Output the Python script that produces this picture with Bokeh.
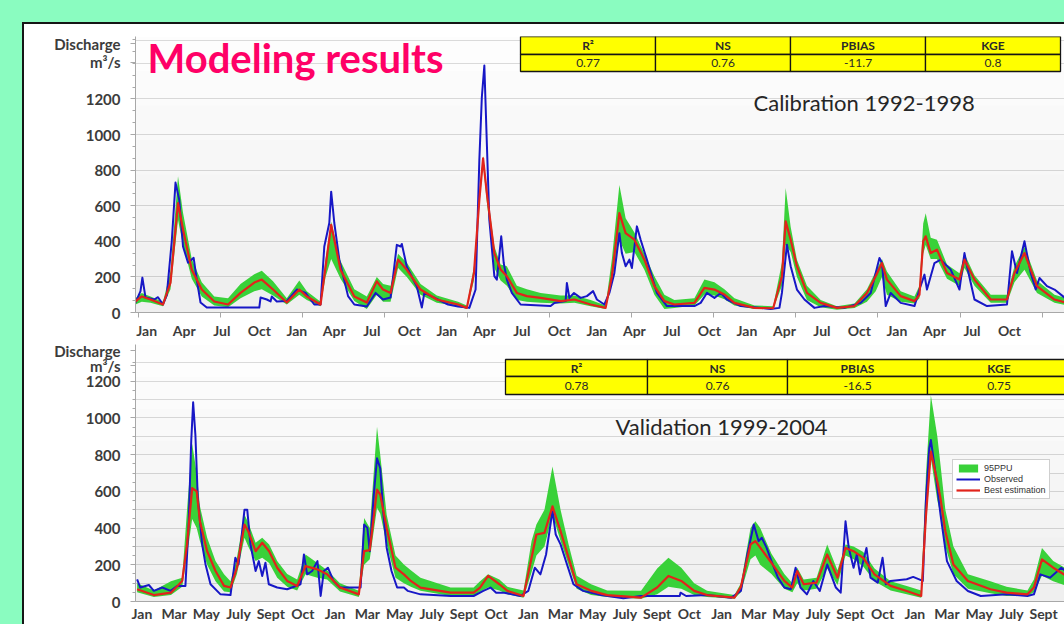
import numpy as np
from bokeh.plotting import figure
from bokeh.models import (Range1d, FixedTicker, Label, BoxAnnotation, Legend, LegendItem,
                          ColumnDataSource, GlobalInlineStyleSheet)
from bokeh.layouts import column
from bokeh.embed import file_html
from bokeh.resources import INLINE

# ---------------- data ----------------
metric_names = ["R²", "NS", "PBIAS", "KGE"]
calib_metrics = ["0.77", "0.76", "-11.7", "0.8"]
valid_metrics = ["0.78", "0.76", "-16.5", "0.75"]

y_title_lines = ["Discharge", "m³/s"]
calib_month_names = ["Jan", "Apr", "Jul", "Oct"]
calib_month_index = [0, 3, 6, 9]
valid_month_names = ["Jan", "Mar", "May", "July", "Sept", "Oct"]
valid_month_index = [0, 2, 4, 6, 8, 10]

# Calibration 1992-1998, time in months since Jan 1992
cal_sim_t = [0, 0.5, 1.2, 2.2, 2.8, 3.4, 3.8, 4.5, 5.3, 6.3,
             7.4, 8.4, 9.5, 10.1, 11.0, 12.1, 13.1, 13.7, 14.8, 15.2,
             15.65, 16.4, 17.5, 18.5, 19.3, 19.8, 20.4, 21.0, 21.7, 22.8,
             24.1, 25.8, 26.5, 27.07, 27.5, 27.8, 28.1, 28.7, 29.2, 29.7,
             30.5, 31.3, 32.4, 34.0, 35.1, 36.4, 37.6, 38.1, 38.7, 39.2,
             39.9, 40.7, 41.5, 42.3, 43.1, 44.7, 45.5, 46.3, 47.1, 47.9,
             49.5, 51.0, 51.7, 52.0, 52.4, 52.9, 53.7, 54.8, 56.1, 57.5,
             58.5, 59.2, 59.7, 60.1, 61.2, 62.3, 62.7, 63.0, 63.2, 63.6,
             64.1, 64.9, 65.9, 66.3, 67.1, 68.4, 69.7, 70.3, 71.1, 72.1,
             73.5, 74.5]
cal_sim_q = [63, 90, 73, 45, 168, 615, 466, 240, 129, 62,
             45, 110, 168, 185, 129, 56, 129, 90, 45, 257,
             493, 240, 90, 56, 175, 129, 110, 297, 240, 129,
             73, 45, 26, 222, 633, 866, 670, 334, 241, 204,
             110, 92, 82, 64, 73, 45, 26, 204, 558, 446,
             409, 297, 148, 64, 45, 54, 138, 129, 101, 54,
             26, 24, 204, 512, 409, 260, 110, 54, 26, 36,
             110, 204, 278, 185, 92, 64, 100, 400, 428, 334,
             353, 222, 185, 297, 185, 73, 73, 222, 334, 148,
             73, 54]
cal_ppu_lo = [45, 60, 55, 35, 130, 520, 380, 190, 90, 40,
              30, 80, 120, 130, 95, 45, 100, 70, 35, 200,
              300, 190, 65, 20, 100, 60, 60, 250, 200, 100,
              55, 35, 20, 180, 600, 830, 620, 250, 180, 150,
              70, 60, 55, 50, 55, 35, 20, 170, 409, 330,
              340, 240, 100, 20, 25, 40, 100, 95, 75, 40,
              20, 18, 150, 380, 340, 200, 70, 30, 15, 25,
              60, 120, 200, 100, 60, 50, 80, 330, 380, 300,
              300, 190, 150, 250, 150, 55, 55, 170, 240, 110,
              55, 40]
cal_ppu_hi = [80, 110, 90, 60, 230, 765, 560, 300, 170, 90,
              80, 160, 215, 235, 175, 80, 180, 120, 60, 300,
              510, 290, 130, 90, 200, 160, 150, 330, 280, 160,
              95, 60, 40, 260, 680, 880, 700, 372, 270, 260,
              150, 130, 110, 95, 95, 70, 40, 300, 716, 530,
              450, 330, 204, 100, 70, 80, 185, 170, 130, 80,
              40, 35, 280, 700, 480, 297, 150, 70, 35, 50,
              130, 230, 300, 230, 120, 90, 150, 500, 558, 420,
              409, 270, 220, 330, 210, 100, 100, 260, 370, 180,
              100, 80]
cal_obs_t = [0, 0.4, 0.55, 0.8, 1.5, 1.8, 2.2, 2.5, 2.9, 3.2,
             3.5, 3.8, 4.2, 4.65, 4.9, 5.2, 5.7, 9.9, 10.0, 10.5,
             10.8, 10.9, 11.3, 12.1, 12.9, 13.6, 14.3, 14.8, 15.1, 15.5,
             15.65, 15.9, 16.3, 17.0, 17.5, 18.5, 19.2, 19.8, 20.4, 20.6,
             20.9, 21.2, 21.3, 21.7, 22.5, 22.9, 23.1, 25.0, 25.8, 26.7,
             27.2, 27.5, 27.7, 27.9, 28.1, 28.3, 28.7, 28.9, 29.25, 29.45,
             29.7, 30.1, 30.8, 33.2, 33.5, 34.4, 34.5, 34.7, 35.07, 35.6,
             36.1, 36.6, 36.9, 37.5, 37.9, 38.3, 38.7, 38.9, 39.2, 39.5,
             39.7, 40.1, 40.4, 40.9, 41.7, 42.5, 44.7, 45.2, 45.7, 46.3,
             46.8, 47.3, 48.4, 50.8, 51.5, 51.7, 52.1, 52.4, 52.9, 53.5,
             54.3, 55.1, 56.7, 58.0, 58.8, 59.5, 59.7, 60.0, 60.4, 61.2,
             62.3, 62.7, 63.1, 63.3, 63.9, 64.4, 65.2, 65.9, 66.3, 66.5,
             67.1, 68.1, 69.7, 70.1, 70.5, 71.1, 71.6, 72.0, 72.3, 72.9,
             73.5, 74.5]
cal_obs_q = [56, 120, 196, 84, 73, 86, 45, 98, 400, 730,
             632, 371, 280, 307, 185, 56, 28, 28, 84, 73,
             62, 90, 62, 64, 129, 110, 45, 45, 371, 503,
             679, 503, 297, 92, 45, 34, 110, 73, 84, 200,
             380, 371, 385, 257, 146, 28, 110, 45, 34, 26,
             129, 857, 1211, 1388, 950, 521, 204, 185, 428, 278,
             185, 110, 45, 36, 54, 64, 166, 82, 110, 82,
             92, 120, 73, 45, 110, 222, 446, 334, 260, 297,
             250, 484, 409, 297, 110, 36, 36, 54, 110, 82,
             110, 73, 36, 20, 26, 110, 381, 260, 129, 73,
             26, 36, 26, 54, 110, 306, 278, 36, 110, 54,
             36, 129, 213, 129, 278, 297, 241, 129, 334, 260,
             73, 36, 45, 344, 222, 400, 222, 129, 194, 148,
             129, 73]

# Validation 1999-2004, time in months since Jan 1999
val_sim_t = [0.1, 1.14, 2.2, 2.9, 3.2, 3.52, 3.8, 4.0, 4.45, 4.97,
             5.5, 5.9, 6.3, 6.77, 7.0, 7.46, 7.87, 8.3, 8.8, 9.42,
             10.04, 10.56, 11.3, 11.9, 12.7, 13.87, 14.2, 14.55, 15.0, 15.2,
             15.6, 16.15, 16.67, 17.1, 17.7, 19.57, 21.0, 21.4, 21.9, 22.6,
             23.1, 24.1, 24.6, 24.9, 25.4, 25.9, 26.4, 26.9, 27.4, 28.3,
             29.3, 31.4, 32.4, 33.1, 33.9, 34.7, 35.5, 37.2, 37.6, 38.2,
             38.5, 38.8, 39.5, 40.3, 40.8, 41.1, 41.5, 42.3, 42.96, 43.6,
             44.1, 44.6, 45.2, 45.9, 46.9, 47.9, 48.8, 49.1, 49.4, 49.8,
             50.0, 50.3, 50.8, 51.7, 53.1, 54.1, 55.4, 55.8, 56.3, 57.0,
             58.0]
val_sim_q = [67, 35, 48, 112, 311, 618, 600, 437, 274, 166,
             85, 76, 184, 419, 383, 274, 320, 274, 184, 112,
             85, 193, 175, 148, 76, 39, 274, 280, 609, 582,
             401, 184, 148, 112, 76, 48, 48, 76, 139, 94,
             58, 30, 238, 365, 374, 518, 383, 238, 94, 58,
             35, 21, 76, 139, 112, 58, 35, 21, 80, 311,
             329, 293, 211, 112, 76, 166, 94, 103, 256, 130,
             292, 274, 238, 148, 85, 57, 30, 473, 817, 654,
             560, 383, 202, 112, 67, 48, 39, 76, 229, 184,
             130]
val_ppu_lo = [50, 25, 35, 80, 250, 450, 400, 330, 200, 110,
              55, 50, 150, 347, 300, 220, 238, 210, 130, 80,
              60, 148, 130, 120, 55, 25, 200, 230, 509, 480,
              310, 130, 100, 80, 58, 30, 30, 55, 76, 60,
              40, 20, 160, 250, 300, 473, 330, 200, 70, 35,
              25, 15, 40, 80, 70, 35, 25, 15, 50, 230,
              250, 200, 150, 70, 50, 100, 60, 70, 180, 90,
              250, 230, 190, 110, 60, 40, 20, 420, 780, 550,
              473, 300, 150, 70, 45, 30, 30, 50, 140, 110,
              80]
val_ppu_hi = [100, 60, 110, 130, 500, 860, 700, 520, 347, 220,
              148, 110, 240, 473, 430, 320, 347, 310, 220, 150,
              120, 256, 210, 170, 100, 58, 455, 400, 952, 800,
              473, 250, 202, 170, 130, 76, 76, 110, 148, 120,
              80, 60, 330, 420, 500, 735, 500, 311, 140, 94,
              60, 58, 180, 238, 184, 100, 58, 35, 100, 400,
              437, 400, 260, 150, 100, 184, 120, 130, 310, 170,
              310, 300, 270, 180, 110, 85, 60, 700, 1124, 900,
              744, 500, 300, 148, 110, 80, 60, 120, 292, 220,
              170]
val_obs_t = [0.1, 0.3, 0.83, 1.14, 1.66, 2.18, 2.6, 3.1, 3.3, 3.46,
             3.58, 3.72, 3.87, 4.14, 4.35, 4.66, 5.28, 5.9, 6.2, 6.4,
             6.77, 6.94, 7.14, 7.46, 7.66, 7.87, 8.07, 8.28, 8.8, 9.42,
             10.25, 10.46, 10.66, 10.97, 11.3, 11.5, 11.7, 11.95, 12.3, 12.7,
             13.98, 14.2, 14.4, 14.55, 14.8, 15.0, 15.2, 15.4, 15.6, 15.9,
             16.25, 16.67, 16.9, 17.7, 19.6, 21.0, 21.6, 22.05, 22.4, 22.9,
             23.9, 24.4, 24.8, 25.15, 25.5, 25.9, 26.1, 26.4, 26.8, 27.2,
             27.8, 28.9, 30.3, 31.4, 33.8, 33.85, 34.2, 35.5, 37.0, 37.6,
             38.0, 38.4, 38.7, 38.9, 39.2, 39.5, 39.9, 40.3, 40.7, 41.0,
             41.3, 41.7, 42.1, 42.5, 42.96, 43.5, 43.8, 44.1, 44.3, 44.6,
             44.8, 45.0, 45.4, 45.65, 46.1, 46.4, 46.6, 46.9, 47.9, 48.3,
             48.9, 49.1, 49.3, 49.4, 49.7, 50.0, 50.4, 51.0, 51.7, 52.5,
             54.1, 55.4, 55.8, 56.2, 56.8, 57.5, 58.0]
val_obs_q = [121, 76, 90, 58, 76, 58, 85, 85, 419, 871,
             1085, 907, 564, 311, 202, 94, 39, 35, 238, 202,
             500, 500, 311, 166, 220, 139, 211, 94, 76, 67,
             94, 256, 148, 166, 220, 30, 166, 184, 112, 76,
             76, 419, 401, 274, 582, 780, 726, 473, 293, 166,
             76, 76, 58, 39, 30, 30, 58, 76, 48, 48,
             30, 58, 184, 148, 256, 495, 365, 311, 202, 94,
             58, 35, 18, 30, 30, 48, 30, 35, 21, 57,
             256, 419, 329, 347, 292, 220, 130, 76, 67, 184,
             76, 39, 112, 57, 202, 76, 48, 437, 292, 184,
             256, 148, 292, 130, 103, 238, 94, 112, 121, 134,
             112, 564, 835, 880, 690, 473, 220, 112, 57, 30,
             39, 30, 39, 148, 130, 184, 150]

# ---------------- style ----------------
FONT = "Lato"
MINT = "#8AFCC0"
GREEN = "#39D139"
BLUE = "#1717C6"
RED = "#E2231B"
AXIS_GRAY = "#A8A8A8"
GRID_GRAY = "#DCDCDC"
TEXT = "#3C3C3C"
PANEL_W = 1040
FRAME_LEFT = 111


def add_text(p, x, y, text, size, color=TEXT, style="normal", align="left", baseline="middle"):
    p.add_layout(Label(x=x, y=y, x_units="screen", y_units="screen", text=text,
                       text_font=FONT, text_font_size=size, text_color=color,
                       text_font_style=style, text_align=align, text_baseline=baseline))


def add_table(p, x_edges, y_rows, names, vals):
    for i in range(len(names)):
        for r in range(2):
            p.add_layout(BoxAnnotation(left=x_edges[i], right=x_edges[i + 1],
                                       top=y_rows[r], bottom=y_rows[r + 1],
                                       left_units="screen", right_units="screen",
                                       top_units="screen", bottom_units="screen",
                                       fill_color="#FFFF00", fill_alpha=1.0,
                                       line_color="#151515", line_alpha=1.0, line_width=1.3))
    for i in range(len(names)):
        cx = (x_edges[i] + x_edges[i + 1]) / 2
        add_text(p, cx, (y_rows[0] + y_rows[1]) / 2, names[i], "12px", color="#2A2A2A",
                 style="bold", align="center")
        add_text(p, cx, (y_rows[1] + y_rows[2]) / 2, vals[i], "12px", color="#2A2A2A",
                 align="center")


def make_fig(height, x_end, y_end, top_b, bottom_b):
    p = figure(width=PANEL_W, height=height, x_range=Range1d(0, x_end), y_range=Range1d(0, y_end),
               output_backend="svg", toolbar_location=None,
               min_border_left=FRAME_LEFT, min_border_right=0,
               min_border_top=top_b, min_border_bottom=bottom_b)
    p.border_fill_color = "white"
    p.background_fill_color = "white"
    p.outline_line_color = None
    p.xgrid.visible = False
    p.ygrid.grid_line_color = GRID_GRAY
    # soft vertical gradient of the plot area
    for k in range(1, 9):
        p.add_layout(BoxAnnotation(bottom=0, top=y_end * k / 8, fill_color="black",
                                   fill_alpha=0.0085, line_color=None, level="underlay"))
    return p


def style_axes(p, x_ticks, x_labels, x_minor, y_ticks, y_over, y_minor, grid_ticks,
               x_font, x_standoff, tick_out):
    xa = p.xaxis[0]
    xa.ticker = FixedTicker(ticks=x_ticks, minor_ticks=x_minor)
    xa.major_label_overrides = dict(zip(x_ticks, x_labels))
    xa.major_tick_line_color = None
    xa.major_tick_in = 0
    xa.major_tick_out = 0
    xa.minor_tick_line_color = AXIS_GRAY
    xa.minor_tick_in = 0
    xa.minor_tick_out = tick_out
    xa.axis_line_color = AXIS_GRAY
    xa.major_label_text_font = FONT
    xa.major_label_text_font_size = x_font
    xa.major_label_text_font_style = "bold"
    xa.major_label_text_color = TEXT
    xa.major_label_standoff = x_standoff

    ya = p.yaxis[0]
    ya.ticker = FixedTicker(ticks=y_ticks, minor_ticks=y_minor)
    ya.major_label_overrides = y_over
    ya.axis_line_color = AXIS_GRAY
    ya.major_tick_line_color = AXIS_GRAY
    ya.minor_tick_line_color = AXIS_GRAY
    ya.major_tick_in = 0
    ya.major_tick_out = 5
    ya.minor_tick_in = 0
    ya.minor_tick_out = 3
    ya.major_label_text_font = FONT
    ya.major_label_text_font_size = "15px"
    ya.major_label_text_font_style = "bold"
    ya.major_label_text_color = TEXT
    ya.major_label_standoff = 10
    p.ygrid.ticker = FixedTicker(ticks=grid_ticks)


def draw_series(p, sim_t, sim_q, lo, hi, obs_t, obs_q):
    band = p.varea(x="t", y1="lo", y2="hi",
                   source=ColumnDataSource(dict(t=sim_t, lo=lo, hi=hi)),
                   fill_color=GREEN, fill_alpha=1.0)
    obs = p.line(x="t", y="q", source=ColumnDataSource(dict(t=obs_t, q=obs_q)),
                 line_color=BLUE, line_width=2.0, line_join="round")
    sim = p.line(x="t", y="q", source=ColumnDataSource(dict(t=sim_t, q=sim_q)),
                 line_color=RED, line_width=2.2, line_join="round")
    return band, obs, sim


# ---------------- calibration panel ----------------
cal_x_end = 74.3
cal_y_end = 1551
cal_title_at = [1511, 1405]          # levels beside which the axis title lines sit
p1 = make_fig(317, cal_x_end, cal_y_end, 12, 28)
draw_series(p1, cal_sim_t, cal_sim_q, cal_ppu_lo, cal_ppu_hi, cal_obs_t, cal_obs_q)

cal_ticks, cal_labels = [], []
for yr in range(7):
    for name, m in zip(calib_month_names, calib_month_index):
        t = yr * 12 + m + 0.9
        if t < 72.5:
            cal_ticks.append(t)
            cal_labels.append(name)
cal_minor = [0.24 + k * 200 / 30.44 for k in range(12)]
style_axes(p1, cal_ticks, cal_labels, cal_minor,
           list(range(0, 1201, 200)) + cal_title_at, dict(zip(cal_title_at, y_title_lines)),
           [k * 200 / 3 for k in range(24)], list(range(200, 1401, 200)) + [1529],
           "14px", 4, 5)

add_text(p1, 12, 255, "Modeling results", "40px", color="#FF0066", style="bold")
add_text(p1, 618, 210, "Calibration 1992-1998", "22px", color="#262626")
add_table(p1, [385, 520, 655, 790, 925], [276, 258, 241], metric_names, calib_metrics)

# ---------------- validation panel ----------------
val_x_end = 57.7
val_y_end = 1400
val_title_at = [1366, 1284]
p2 = make_fig(283, val_x_end, val_y_end, 3, 22)
band, obs, sim = draw_series(p2, val_sim_t, val_sim_q, val_ppu_lo, val_ppu_hi,
                             val_obs_t, val_obs_q)

val_ticks, val_labels = [], []
for yr in range(6):
    for name, m in zip(valid_month_names, valid_month_index):
        t = yr * 12 + m + 0.4
        if t < 57.5:
            val_ticks.append(t)
            val_labels.append(name)
style_axes(p2, val_ticks, val_labels, [],
           list(range(0, 1201, 200)) + val_title_at, dict(zip(val_title_at, y_title_lines)),
           list(range(0, 1301, 50)), list(range(100, 1301, 100)),
           "14px", 3, 0)

add_text(p2, 480, 175, "Validation 1999-2004", "22px", color="#262626")
add_table(p2, [370, 512, 652, 792, 935], [242, 225, 207], metric_names, valid_metrics)

legend = Legend(items=[LegendItem(label="95PPU", renderers=[band]),
                       LegendItem(label="Observed", renderers=[obs]),
                       LegendItem(label="Best estimation", renderers=[sim])],
                location=(817, 102))
legend.label_text_font = "Liberation Sans"
legend.label_text_font_size = "9px"
legend.label_text_color = "#333333"
legend.glyph_height = 10
legend.glyph_width = 24
legend.label_height = 10
legend.label_standoff = 4
legend.spacing = 1
legend.padding = 3
legend.margin = 0
legend.border_line_color = "#A0A0A0"
legend.background_fill_color = "white"
legend.background_fill_alpha = 1.0
p2.add_layout(legend)

page_css = GlobalInlineStyleSheet(css="html, body { background-color: %s; }" % MINT)
root = column(p1, p2, margin=(22, 0, 0, 22),
              styles={"background-color": "white",
                      "border-top": "2px solid #161616",
                      "border-left": "2px solid #161616"},
              stylesheets=[page_css])

open("out.html", "w").write(file_html(root, INLINE))
